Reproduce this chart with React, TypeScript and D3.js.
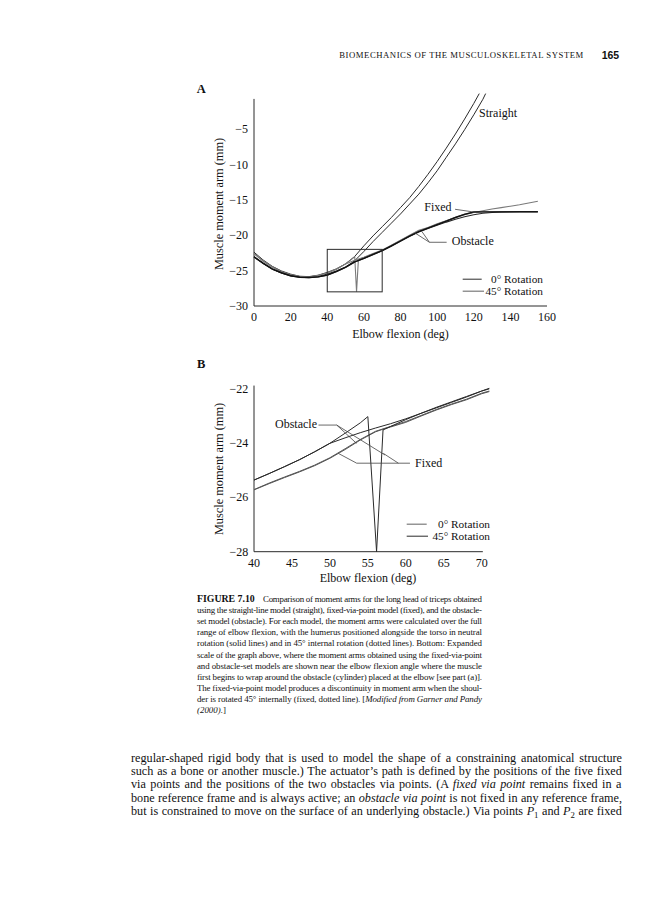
import React from 'react';
import * as d3 from 'd3';

// ---------- Panel A data (elbow flexion deg, moment arm mm) ----------
const aTicksX = [0, 20, 40, 60, 80, 100, 120, 140, 160];
const aTicksY = [-30, -25, -20, -15, -10, -5];

const straightUpperDeg = [0, 5, 10, 15, 20, 25, 30, 35, 40, 45, 50, 55, 60, 65, 70, 75, 80, 85, 90, 95, 100, 105, 110, 115, 120, 123];
const straightUpperMm = [-22.4, -23.5, -24.4, -25.05, -25.5, -25.8, -25.85, -25.65, -25.25, -24.75, -24.05, -23.0, -21.5, -20.1, -18.8, -17.5, -16.1, -14.7, -13.1, -11.4, -9.6, -7.7, -5.7, -3.6, -1.4, 0.0];

const straightLowerDeg = [0, 5, 10, 15, 20, 25, 30, 35, 40, 45, 50, 55, 60, 65, 70, 75, 80, 85, 90, 95, 100, 105, 110, 115, 120, 125, 126.5];
const straightLowerMm = [-23.0, -24.0, -24.8, -25.35, -25.7, -25.9, -25.95, -25.8, -25.5, -25.05, -24.5, -23.6, -22.3, -20.9, -19.6, -18.3, -17.0, -15.6, -14.2, -12.6, -10.9, -9.0, -7.1, -5.1, -3.0, -0.8, 0.0];

const groupDeg = [0, 5, 10, 15, 20, 25, 30, 35, 40, 45, 50, 55, 60, 65, 70, 75, 80, 85, 90, 95, 100, 105, 110, 115, 120, 125, 130, 135, 140, 145, 150, 155];
const obstacle45A = [-22.6, -23.65, -24.5, -25.15, -25.6, -25.85, -25.9, -25.7, -25.35, -24.8, -24.05, -23.55, -23.1, -22.6, -22.1, -21.4, -20.7, -20.0, -19.3, -18.9, -18.4, -17.95, -17.5, -17.1, -16.8, -16.55, -16.3, -16.1, -15.9, -15.7, -15.45, -15.2];
const obstacle0A = [-23.1, -24.0, -24.8, -25.35, -25.75, -25.95, -26.0, -25.9, -25.65, -25.15, -24.55, -23.8, -23.3, -22.75, -22.2, -21.55, -20.85, -20.15, -19.55, -19.05, -18.6, -18.15, -17.75, -17.4, -17.1, -16.9, -16.8, -16.72, -16.68, -16.65, -16.65, -16.65];
const fixed0A = [-23.05, -23.95, -24.75, -25.3, -25.72, -25.93, -25.98, -25.88, -25.62, -25.12, -24.52, -23.78, -23.28, -22.72, -22.18, -21.52, -20.82, -20.12, -19.5, -19.0, -18.5, -18.0, -17.5, -17.05, -16.72, -16.7, -16.7, -16.7, -16.7, -16.7, -16.7, -16.7];

const fixed45ADeg = [0, 5, 10, 15, 20, 25, 30, 35, 40, 45, 50, 55, 56, 57, 60, 65, 70, 75, 80, 85, 90, 95, 100, 105, 110, 115, 120, 125, 130, 135, 140, 145, 150, 155];
const fixed45AMm = [-22.6, -23.65, -24.5, -25.15, -25.6, -25.85, -25.9, -25.7, -25.35, -24.8, -24.05, -23.05, -28.0, -23.5, -23.15, -22.65, -22.15, -21.45, -20.75, -20.05, -19.4, -18.95, -18.45, -17.95, -17.45, -17.0, -16.75, -16.72, -16.7, -16.7, -16.7, -16.7, -16.7, -16.7];

// ---------- Panel B data ----------
const bTicksX = [40, 45, 50, 55, 60, 65, 70];
const bTicksY = [-28, -26, -24, -22];

const lowerDegB = [40, 42, 44, 46, 48, 50, 52, 54, 56, 57, 58, 60, 62, 64, 66, 68, 70, 71];
const obstacle0B = [-25.73, -25.5, -25.28, -25.07, -24.84, -24.57, -24.25, -23.9, -23.6, -23.5, -23.42, -23.25, -23.02, -22.8, -22.6, -22.42, -22.2, -22.12];
const fixed0B = [-25.72, -25.48, -25.26, -25.05, -24.82, -24.55, -24.22, -23.88, -23.58, -23.49, -23.4, -23.22, -23.0, -22.78, -22.58, -22.4, -22.18, -22.1];

const fixed45BDeg = [40, 42, 44, 46, 48, 50, 52, 54, 55, 56.15, 57, 58, 60, 62, 64, 66, 68, 70, 71];
const fixed45BMm = [-25.37, -25.13, -24.88, -24.62, -24.33, -24.02, -23.65, -23.27, -23.04, -28.0, -23.53, -23.4, -23.15, -22.92, -22.7, -22.5, -22.3, -22.1, -22.02];

const obstacle45BDeg = [40, 42, 44, 46, 48, 50, 52, 54, 56, 58, 60, 62, 64, 66, 68, 70, 71];
const obstacle45BMm = [-25.37, -25.13, -24.88, -24.62, -24.33, -24.02, -23.82, -23.63, -23.46, -23.3, -23.12, -22.92, -22.72, -22.52, -22.32, -22.1, -22.0];

// annotation leader lines (data coordinates)
const aFixedLeader: [number, number][] = [[109.8, -16.34], [118.9, -16.68], [121.6, -16.82]];
const aObstacleLeader1: [number, number][] = [[105.2, -21.0], [95.8, -21.0], [88.0, -19.7]];
const aObstacleLeader2: [number, number][] = [[95.8, -21.0], [91.6, -19.45]];
const bObstacleLeader1: [number, number][] = [[48.5, -23.35], [50.9, -23.35], [53.5, -24.02]];
const bObstacleLeader2: [number, number][] = [[50.9, -23.35], [57.26, -24.45]];
const bFixedLeader1: [number, number][] = [[60.55, -24.75], [53.53, -24.75], [51.11, -24.39]];
const bFixedLeader2: [number, number][] = [[59.02, -24.75], [57.04, -24.39]];

type Seg = { t: string; b?: boolean; i?: boolean; sub?: boolean };

const captionFirst: Seg[] = [{ t: 'Comparison of moment arms for the long head of triceps obtained' }];
const captionLines: Seg[][] = [
  [{ t: 'using the straight-line model (straight), fixed-via-point model (fixed), and the obstacle-' }],
  [{ t: 'set model (obstacle). For each model, the moment arms were calculated over the full' }],
  [{ t: 'range of elbow flexion, with the humerus positioned alongside the torso in neutral' }],
  [{ t: 'rotation (solid lines) and in 45° internal rotation (dotted lines). Bottom: Expanded' }],
  [{ t: 'scale of the graph above, where the moment arms obtained using the fixed-via-point' }],
  [{ t: 'and obstacle-set models are shown near the elbow flexion angle where the muscle' }],
  [{ t: 'first begins to wrap around the obstacle (cylinder) placed at the elbow [see part (a)].' }],
  [{ t: 'The fixed-via-point model produces a discontinuity in moment arm when the shoul-' }],
  [{ t: 'der is rotated 45° internally (fixed, dotted line). [' }, { t: 'Modified from Garner and Pandy', i: true }],
  [{ t: '(2000).', i: true }, { t: ']' }],
];

const bodyLines: Seg[][] = [
  [{ t: 'regular-shaped rigid body that is used to model the shape of a constraining anatomical structure' }],
  [{ t: 'such as a bone or another muscle.) The actuator’s path is defined by the positions of the five fixed' }],
  [{ t: 'via points and the positions of the two obstacles via points. (A ' }, { t: 'fixed via point', i: true }, { t: ' remains fixed in a' }],
  [{ t: 'bone reference frame and is always active; an ' }, { t: 'obstacle via point', i: true }, { t: ' is not fixed in any reference frame,' }],
  [{ t: 'but is constrained to move on the surface of an underlying obstacle.) Via points ' }, { t: 'P', i: true }, { t: '1', sub: true }, { t: ' and ' }, { t: 'P', i: true }, { t: '2', sub: true }, { t: ' are fixed' }],
];

const SERIF = "'Liberation Serif', 'Times New Roman', serif";
const SANS = "'Liberation Sans', Arial, sans-serif";
const DARK = '#2a2a2a';
const GRAY = '#7a7a7a';

function pts(xs: number[], ys: number[]): [number, number][] {
  return xs.map((x, i) => [x, ys[i]]);
}

let ctx: CanvasRenderingContext2D | null = null;
function measure(s: string, size: number, bold = false, italic = false): number {
  if (!ctx && typeof document !== 'undefined') ctx = document.createElement('canvas').getContext('2d');
  if (!ctx) return s.length * size * 0.45;
  ctx.font = `${italic ? 'italic ' : ''}${bold ? 'bold ' : ''}${size}px "Liberation Serif"`;
  return ctx.measureText(s).width;
}

function JustLine({ segs, x, y, size, width, justify }: { segs: Seg[]; x: number; y: number; size: number; width: number; justify: boolean }) {
  const subSize = size * 0.72;
  let w = 0;
  let spaces = 0;
  segs.forEach(s => {
    w += measure(s.t, s.sub ? subSize : size, !!s.b, !!s.i);
    spaces += (s.t.match(/ /g) || []).length;
  });
  const overflow = justify && w > width;
  const ws = justify && !overflow && spaces > 0 ? (width - w) / spaces : 0;
  let prevSub = false;
  return (
    <text x={x} y={y} fontSize={size} wordSpacing={ws || undefined}
      textLength={overflow ? width : undefined} lengthAdjust={overflow ? 'spacing' : undefined}
      style={{ whiteSpace: 'pre' }}>
      {segs.map((s, k) => {
        const dy = s.sub ? size * 0.22 : prevSub ? -size * 0.22 : 0;
        prevSub = !!s.sub;
        return (
          <tspan key={k} dy={dy || undefined} fontWeight={s.b ? 'bold' : undefined} fontStyle={s.i ? 'italic' : undefined} fontSize={s.sub ? subSize : undefined}>{s.t}</tspan>
        );
      })}
    </text>
  );
}

export default function App() {
  const xA = d3.scaleLinear().domain([0, 160]).range([254, 547]);
  const yA = d3.scaleLinear().domain([-30, 0]).range([306, 93.6]);
  const xB = d3.scaleLinear().domain([40, 70]).range([254, 481.7]);
  const yB = d3.scaleLinear().domain([-28, -22]).range([551.7, 388.3]);

  const lineA = d3.line<[number, number]>().x(d => xA(d[0])).y(d => yA(d[1]));
  const lineB = d3.line<[number, number]>().x(d => xB(d[0])).y(d => yB(d[1]));

  const fs = 12;
  const lfs = 11.3;
  const lead = { fill: 'none', stroke: '#444', strokeWidth: 0.8 };
  const capSize = 8.9;

  return (
    <svg width={669} height={900} style={{ position: 'absolute', left: 0, top: 0, background: '#fff' }}
      fontFamily={SERIF}>
      <rect x={0} y={0} width={669} height={900} fill="#fff" />
      {/* running header */}
      <text x={339.3} y={58} fontSize={8.7} textLength={244} lengthAdjust="spacing" fill="#111">BIOMECHANICS OF THE MUSCULOSKELETAL SYSTEM</text>
      <text x={601.7} y={58.5} fontSize={10.5} fontFamily={SANS} fontWeight="bold" fill="#111">165</text>

      {/* ---------------- Panel A ---------------- */}
      <text x={196.7} y={93} fontSize={12.5} fontWeight="bold" fill="#111">A</text>
      <line x1={xA(0)} x2={xA(0)} y1={yA(-0.75)} y2={yA(-30)} stroke={DARK} strokeWidth={1} />
      <line x1={xA(0)} x2={xA(160)} y1={yA(-30)} y2={yA(-30)} stroke={DARK} strokeWidth={1} />
      {aTicksY.map(t => (
        <text key={'ay' + t} x={248} y={yA(t)} dy="0.35em" fontSize={fs} textAnchor="end" fill="#111">{'\u2212' + Math.abs(t)}</text>
      ))}
      {aTicksX.map(t => (
        <text key={'ax' + t} x={xA(t)} y={321} fontSize={fs} textAnchor="middle" fill="#111">{t}</text>
      ))}
      <text x={400.5} y={338} fontSize={fs} textAnchor="middle" fill="#111">Elbow flexion (deg)</text>
      <text transform={`translate(223,204) rotate(-90)`} fontSize={12.3} textAnchor="middle" fill="#111">Muscle moment arm (mm)</text>

      <path d={lineA(pts(straightUpperDeg, straightUpperMm)) || ''} fill="none" stroke={DARK} strokeWidth={1} />
      <path d={lineA(pts(straightLowerDeg, straightLowerMm)) || ''} fill="none" stroke={DARK} strokeWidth={1} />
      <path d={lineA(pts(groupDeg, obstacle45A)) || ''} fill="none" stroke={GRAY} strokeWidth={1.1} />
      <path d={lineA(pts(fixed45ADeg, fixed45AMm)) || ''} fill="none" stroke={GRAY} strokeWidth={1.1} />
      <path d={lineA(pts(groupDeg, obstacle0A)) || ''} fill="none" stroke={DARK} strokeWidth={1.1} />
      <path d={lineA(pts(groupDeg, fixed0A)) || ''} fill="none" stroke={'#111'} strokeWidth={1.4} />

      {/* zoom box */}
      <rect x={xA(40)} y={yA(-22)} width={xA(70) - xA(40)} height={yA(-28) - yA(-22)} fill="none" stroke={DARK} strokeWidth={1} />

      <text x={xA(122.9)} y={yA(-3.24)} fontSize={fs} fill="#111">Straight</text>
      <text x={xA(107.9)} y={yA(-16.65)} fontSize={fs} textAnchor="end" fill="#111">Fixed</text>
      <path d={lineA(aFixedLeader) || ''} {...lead} />
      <text x={xA(108)} y={yA(-21.38)} fontSize={fs} fill="#111">Obstacle</text>
      <path d={lineA(aObstacleLeader1) || ''} {...lead} />
      <path d={lineA(aObstacleLeader2) || ''} {...lead} />

      {/* legend A */}
      <line x1={462.7} x2={481.7} y1={279.2} y2={279.2} stroke={DARK} strokeWidth={1} />
      <text x={543} y={282.6} fontSize={lfs} textAnchor="end" fill="#111">0° Rotation</text>
      <line x1={462.7} x2={484} y1={291.2} y2={291.2} stroke={GRAY} strokeWidth={1.2} />
      <text x={543} y={295.2} fontSize={lfs} textAnchor="end" fill="#111">45° Rotation</text>

      {/* ---------------- Panel B ---------------- */}
      <text x={197} y={367.5} fontSize={12.5} fontWeight="bold" fill="#111">B</text>
      <line x1={xB(40)} x2={xB(40)} y1={yB(-21.9)} y2={yB(-28)} stroke={DARK} strokeWidth={1} />
      <line x1={xB(40)} x2={xB(70.15)} y1={yB(-28)} y2={yB(-28)} stroke={DARK} strokeWidth={1} />
      {bTicksY.map(t => (
        <text key={'by' + t} x={248.3} y={yB(t)} dy="0.35em" fontSize={fs} textAnchor="end" fill="#111">{'\u2212' + Math.abs(t)}</text>
      ))}
      {bTicksX.map(t => (
        <text key={'bx' + t} x={xB(t)} y={566.7} fontSize={fs} textAnchor="middle" fill="#111">{t}</text>
      ))}
      <text x={368} y={582} fontSize={fs} textAnchor="middle" fill="#111">Elbow flexion (deg)</text>
      <text transform={`translate(223,469) rotate(-90)`} fontSize={12.3} textAnchor="middle" fill="#111">Muscle moment arm (mm)</text>

      <path d={lineB(pts(lowerDegB, obstacle0B)) || ''} fill="none" stroke={'#555'} strokeWidth={1} />
      <path d={lineB(pts(lowerDegB, fixed0B)) || ''} fill="none" stroke={'#555'} strokeWidth={1} />
      <path d={lineB(pts(obstacle45BDeg, obstacle45BMm)) || ''} fill="none" stroke={DARK} strokeWidth={1} />
      <path d={lineB(pts(fixed45BDeg, fixed45BMm)) || ''} fill="none" stroke={DARK} strokeWidth={1} />

      <text x={xB(42.77)} y={yB(-23.47)} fontSize={fs} fill="#111">Obstacle</text>
      <path d={lineB(bObstacleLeader1) || ''} {...lead} />
      <path d={lineB(bObstacleLeader2) || ''} {...lead} />
      <text x={xB(61.21)} y={yB(-24.9)} fontSize={fs} fill="#111">Fixed</text>
      <path d={lineB(bFixedLeader1) || ''} {...lead} />
      <path d={lineB(bFixedLeader2) || ''} {...lead} />

      {/* legend B */}
      <line x1={406.7} x2={426.7} y1={524.2} y2={524.2} stroke={GRAY} strokeWidth={1.2} />
      <text x={490} y={527.6} fontSize={lfs} textAnchor="end" fill="#111">0° Rotation</text>
      <line x1={406.7} x2={428} y1={536.2} y2={536.2} stroke={DARK} strokeWidth={1} />
      <text x={490} y={540.2} fontSize={lfs} textAnchor="end" fill="#111">45° Rotation</text>

      {/* ---------------- Caption ---------------- */}
      <g fill="#111">
        <text x={197} y={602} fontSize={9.8} fontWeight="bold">FIGURE 7.10</text>
        <JustLine segs={captionFirst} x={263} y={602} size={capSize} width={219} justify={true} />
        {captionLines.map((segs, i) => (
          <JustLine key={'cap' + i} segs={segs} x={197} y={602 + 11.1 * (i + 1)} size={capSize} width={285} justify={i < captionLines.length - 1} />
        ))}
      </g>

      {/* ---------------- Body text ---------------- */}
      <g fill="#111">
        {bodyLines.map((segs, i) => (
          <JustLine key={'body' + i} segs={segs} x={131} y={761.5 + 13.4 * i} size={12.2} width={491} justify={true} />
        ))}
      </g>
    </svg>
  );
}
